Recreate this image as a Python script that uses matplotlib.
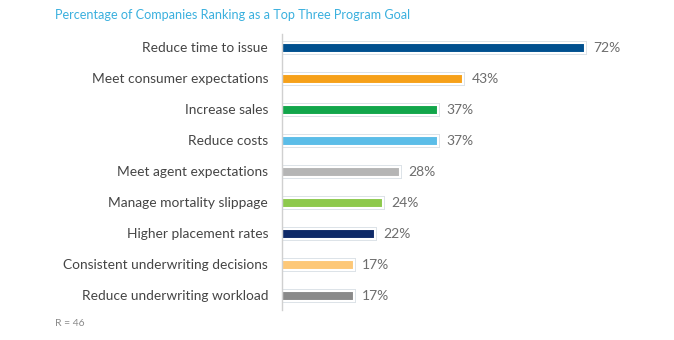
import matplotlib.pyplot as plt

# data
goals = ['Reduce time to issue', 'Meet consumer expectations', 'Increase sales',
         'Reduce costs', 'Meet agent expectations', 'Manage mortality slippage',
         'Higher placement rates', 'Consistent underwriting decisions',
         'Reduce underwriting workload']
pct = [72, 43, 37, 37, 28, 24, 22, 17, 17]
colors = ['#00508f', '#f6a11a', '#12a64b', '#5bbde8', '#b5b5b5',
          '#8dc94c', '#0f2a68', '#fdc878', '#8a8a8a']

plt.rcParams['font.family'] = ['Lato', 'DejaVu Sans']

W, H = 674, 340
fig = plt.figure(figsize=(W / 100, H / 100), dpi=100)
px_per_pct = (585 - 282) / 72.0
ax = fig.add_axes([282 / W, 1 - 310 / H, (W - 282) / W, (310 - 34) / H])
ax.set_xlim(0, (W - 282) / px_per_pct)
ax.set_ylim(8.45, -0.45)

ypos = list(range(len(goals)))
# soft shadow behind each bar
ax.barh(ypos, [p + 1.0 for p in pct], height=0.44, left=-0.5, color='#dce2e7',
        edgecolor='none', zorder=1)
ax.barh(ypos, pct, height=0.33, color=colors, edgecolor='white', linewidth=1.5, zorder=2)

for y, p in zip(ypos, pct):
    ax.text(p + 2.0, y, f'{p}%', va='center', ha='left', fontsize=10, color='#6d6d6d')

for y, g in zip(ypos, goals):
    ax.text(-3.3, y, g, va='center', ha='right', fontsize=9.9, color='#454545')

for s in ['top', 'right', 'bottom']:
    ax.spines[s].set_visible(False)
ax.spines['left'].set_color('#d0d0d0')
ax.spines['left'].set_linewidth(1)
ax.set_xticks([])
ax.set_yticks([])

fig.text(55 / W, 1 - 15 / H, 'Percentage of Companies Ranking as a Top Three Program Goal',
         fontsize=9.1, color='#3ab0de', va='center', ha='left')
fig.text(55 / W, 1 - 324 / H, 'R = 46', fontsize=7.5, color='#8a8a8a', va='center', ha='left')

fig.savefig('out.png', dpi=100, facecolor='white')
